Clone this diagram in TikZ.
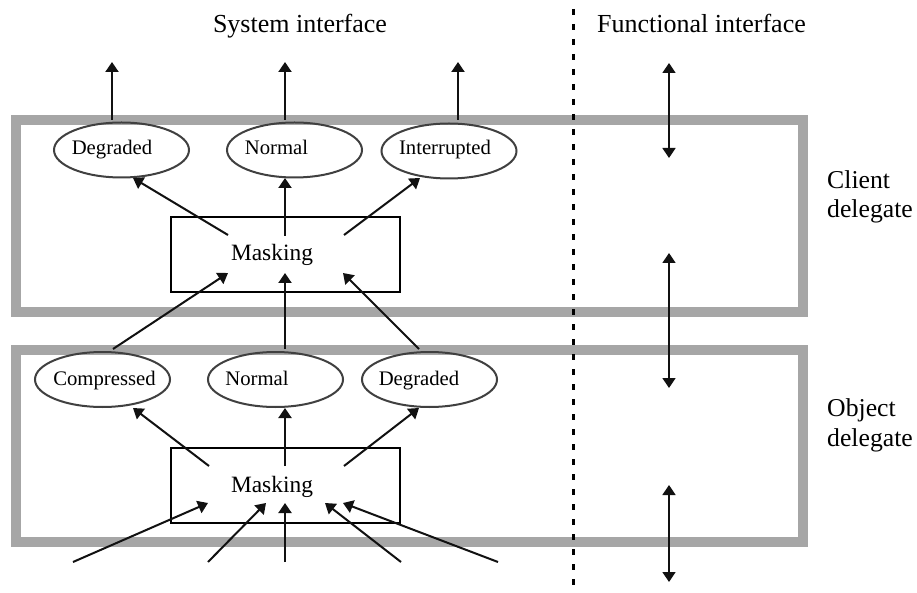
\documentclass[tikz,border=0pt]{standalone}
\usepackage{fontspec}
\setmainfont{Liberation Serif}
\usetikzlibrary{arrows.meta,shapes.geometric}
\definecolor{bargray}{HTML}{A6A6A6}
\definecolor{ellgray}{HTML}{404040}
\definecolor{ink}{HTML}{111111}
\begin{document}
\begin{tikzpicture}[x=1pt,y=-1pt,
  bar/.style={draw=bargray, line width=10pt},
  ell/.style={draw=ellgray, line width=2pt, ellipse, minimum width=135pt, minimum height=55pt, inner sep=0pt},
  maskbox/.style={draw=black, line width=2pt, minimum width=229pt, minimum height=75pt, inner sep=0pt},
  arr/.style={draw=ink, line width=2pt, -{Triangle[length=10pt,width=13pt]}},
  darr/.style={draw=ink, line width=1.6pt, {Triangle[length=10pt,width=13pt]}-{Triangle[length=10pt,width=13pt]}},
  divider/.style={draw=black, line width=3pt, dash pattern=on 6pt off 9pt},
  headfont/.style={font=\fontsize{26}{30}\selectfont, inner sep=0pt, anchor=base},
  sidefont/.style={font=\fontsize{25.7}{30}\selectfont, inner sep=0pt, anchor=base west},
  maskfont/.style={font=\fontsize{23.4}{28}\selectfont, inner sep=0pt, anchor=base},
  ellfont/.style={font=\fontsize{20.7}{24}\selectfont, inner sep=0pt, anchor=base}]
\useasboundingbox (0,0) rectangle (917,593);
\fill[white] (0,0) rectangle (917,593);

% delegate frames
\node[bar, minimum width=787pt, minimum height=192pt, inner sep=0pt] (client) at (409.5,216) {};
\node[bar, minimum width=787pt, minimum height=192pt, inner sep=0pt] (object) at (409.5,446) {};

% divider
\coordinate (dtop) at (573.5,-6);
\coordinate (dbot) at (573.5,600);
\draw[divider] (dtop) -- (dbot);

% headings
\node[headfont] (sysif) at (300,33) {System interface};
\node[headfont] (funcif) at (701.5,33) {Functional interface};
\node[sidefont] (cl1) at (827,189) {Client};
\node[sidefont] (cl2) at (827,218) {delegate};
\node[sidefont] (ob1) at (827,416) {Object};
\node[sidefont] (ob2) at (827,446) {delegate};

% upper ellipses
\node[ell] (u1) at (121.5,150) {};
\node[ell] (u2) at (294.5,150) {};
\node[ell] (u3) at (449,151) {};
\node[ellfont] (u1t) at (112,155) {Degraded};
\node[ellfont] (u2t) at (276.5,155) {Normal};
\node[ellfont] (u3t) at (445,155) {Interrupted};

% lower ellipses
\node[ell] (l1) at (102.5,379.5) {};
\node[ell] (l2) at (275.5,379.5) {};
\node[ell] (l3) at (429.5,379.5) {};
\node[ellfont] (l1t) at (104.5,385) {Compressed};
\node[ellfont] (l2t) at (257,385) {Normal};
\node[ellfont] (l3t) at (419,385) {Degraded};

% masking boxes
\node[maskbox] (m1) at (285.5,254.5) {};
\node[maskbox] (m2) at (285.5,485) {};
\node[maskfont] (m1t) at (272,261) {Masking};
\node[maskfont] (m2t) at (272,492) {Masking};

% connector end points
\coordinate (o1) at (112,62);  \coordinate (u1top) at (112,120);
\coordinate (o2) at (285,62);  \coordinate (u2top) at (285,120);
\coordinate (o3) at (458,62);  \coordinate (u3top) at (458,120);
\coordinate (m1a) at (228,235); \coordinate (u1b) at (133,178);
\coordinate (m1b) at (285,236); \coordinate (u2b) at (285,178);
\coordinate (m1c) at (344,235); \coordinate (u3b) at (420,178);
\coordinate (l1top) at (113,349); \coordinate (m1d) at (228,273);
\coordinate (l2top) at (285,349); \coordinate (m1e) at (285,273);
\coordinate (l3top) at (419,349); \coordinate (m1f) at (343,273);
\coordinate (m2a) at (209,466); \coordinate (l1b) at (133,408);
\coordinate (m2b) at (285,466); \coordinate (l2b) at (285,408);
\coordinate (m2c) at (344,466); \coordinate (l3b) at (419,408);
\coordinate (i1) at (73,562);  \coordinate (m2d) at (208,503);
\coordinate (i2) at (208,562); \coordinate (m2e) at (266,503);
\coordinate (i3) at (285,562); \coordinate (m2f) at (285,503);
\coordinate (i4) at (401,562); \coordinate (m2g) at (325,503);
\coordinate (i5) at (498,562); \coordinate (m2h) at (343,503);
\coordinate (f1a) at (669,63);  \coordinate (f1b) at (669,158);
\coordinate (f2a) at (669,253); \coordinate (f2b) at (669,388);
\coordinate (f3a) at (669,485); \coordinate (f3b) at (669,582);

% outputs to system interface
\draw[arr] (u1top) -- (o1);
\draw[arr] (u2top) -- (o2);
\draw[arr] (u3top) -- (o3);
% client masking to modes
\draw[arr] (m1a) -- (u1b);
\draw[arr] (m1b) -- (u2b);
\draw[arr] (m1c) -- (u3b);
% object modes to client masking
\draw[arr] (l1top) -- (m1d);
\draw[arr] (l2top) -- (m1e);
\draw[arr] (l3top) -- (m1f);
% object masking to modes
\draw[arr] (m2a) -- (l1b);
\draw[arr] (m2b) -- (l2b);
\draw[arr] (m2c) -- (l3b);
% inputs
\draw[arr] (i1) -- (m2d);
\draw[arr] (i2) -- (m2e);
\draw[arr] (i3) -- (m2f);
\draw[arr] (i4) -- (m2g);
\draw[arr] (i5) -- (m2h);
% functional interface
\draw[darr] (f1a) -- (f1b);
\draw[darr] (f2a) -- (f2b);
\draw[darr] (f3a) -- (f3b);
\end{tikzpicture}
\end{document}
